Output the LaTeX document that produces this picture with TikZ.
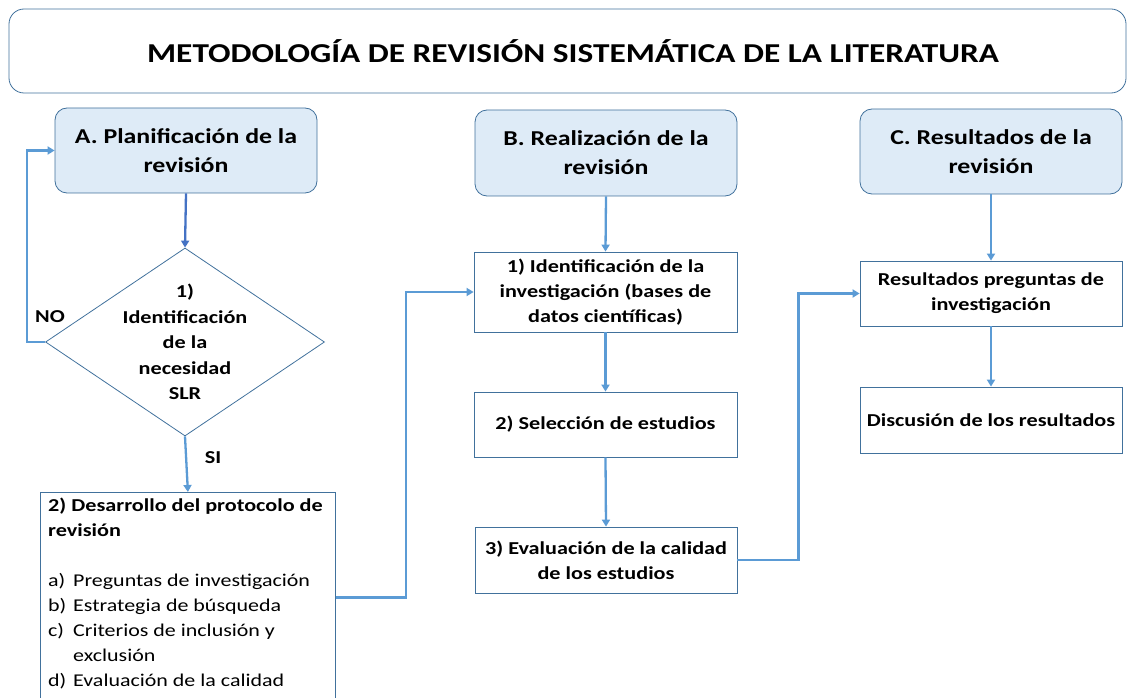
\documentclass[tikz,border=0pt]{standalone}
\usepackage{fontspec}
\setmainfont{Carlito}[FakeStretch=1.22]
\usetikzlibrary{shapes.geometric,arrows.meta}
\definecolor{bord}{HTML}{41719C}
\definecolor{hfill}{HTML}{DEEBF7}
\definecolor{lnk}{HTML}{5B9BD5}
\definecolor{lnkd}{HTML}{4472C4}
\begin{document}
\begin{tikzpicture}[x=1pt,y=-1pt,
  hdr/.style={draw=bord, line width=0.8pt, fill=hfill, rounded corners=12pt,
    minimum width=262pt, minimum height=85pt, align=center,
    font=\fontsize{21.2}{29}\selectfont\bfseries, inner sep=0pt},
  stepbox/.style={draw=bord, line width=0.8pt, fill=white, minimum width=263pt,
    align=center, font=\fontsize{18.2}{25}\selectfont\bfseries, inner sep=0pt},
  link/.style={draw=lnk, line width=2.3pt, -{Triangle[length=7pt,width=8pt]}},
  lbl/.style={font=\fontsize{18.2}{25}\selectfont\bfseries, inner sep=0pt},
]
\clip (0,0) rectangle (1128,698);
\useasboundingbox (0,0) rectangle (1128,698);

% title
\node[draw=bord, line width=0.8pt, rounded corners=15pt, minimum width=1117pt,
  minimum height=84pt, inner sep=0pt] (title) at (567.5,51) {};
\node[inner sep=0pt, font=\fontsize{27.3}{30}\selectfont\bfseries]
  (titletext) at (573,51) {METODOLOGÍA DE REVISIÓN SISTEMÁTICA DE LA LITERATURA};

% headers
\node[hdr] (A) at (186,150.5) {A. Planificación de la\\revisión};
\node[hdr, minimum height=86pt] (B) at (606,153) {B. Realización de la\\revisión};
\node[hdr] (C) at (991,151.5) {C. Resultados de la\\revisión};

% diamond
\node[diamond, draw=bord, line width=0.8pt, minimum width=279pt, minimum height=188pt,
  inner sep=0pt] (d) at (185,342) {};
\node[lbl, align=center, font=\fontsize{18.2}{25.5}\selectfont\bfseries] (dt) at (185,342)
  {1)\\Identificación\\de la\\necesidad\\SLR};

% protocol box
\node[draw=bord, line width=0.8pt, minimum width=295pt, minimum height=240pt,
  inner sep=0pt, anchor=north west] (p2) at (40,492) {};
\node[anchor=north west, align=left, inner sep=0pt,
  font=\fontsize{18}{25}\selectfont] (p2t) at (48,498)
  {\textbf{\fontsize{18.2}{25}\selectfont 2) Desarrollo del protocolo de}\\\textbf{\fontsize{18.2}{25}\selectfont revisión}\\[25pt]
   \makebox[25pt][l]{a)}Preguntas de investigación\\
   \makebox[25pt][l]{b)}Estrategia de búsqueda\\
   \makebox[25pt][l]{c)}Criterios de inclusión y\\
   \hspace*{25pt}exclusión\\
   \makebox[25pt][l]{d)}Evaluación de la calidad};

% column B
\node[stepbox, minimum height=80pt] (B1) at (605.5,292)
  {1) Identificación de la\\investigación (bases de\\datos científicas)};
\node[stepbox, minimum height=65pt] (B2) at (605.5,424.5) {2) Selección de estudios};
\node[stepbox, minimum height=66pt, minimum width=262pt] (B3) at (606,560)
  {3) Evaluación de la calidad\\de los estudios};

% column C
\node[stepbox, minimum width=262pt, minimum height=65pt] (C1) at (991,293.5)
  {Resultados preguntas de\\investigación};
\node[stepbox, minimum width=262pt, minimum height=66pt] (C2) at (991,420)
  {Discusión de los resultados};

% labels
\node[lbl] (no) at (50,317) {NO};
\node[lbl] (si) at (213,458) {SI};

% connectors
\draw[link, draw=lnkd] (A.south) -- (d.north);
\draw[link] (d.west) -- ++(-18,0) |- (A.west);
\draw[link] (d.south) -- (p2.north);
\draw[link] ([yshift=15pt]p2.east) -- ++(70,0) |- (B1.west);
\draw[link] (B.south) -- (B1.north);
\draw[link] (B1.south) -- (B2.north);
\draw[link] (B2.south) -- (B3.north);
\draw[link] (B3.east) -- ++(61,0) |- (C1.west);
\draw[link] (C.south) -- (C1.north);
\draw[link] (C1.south) -- (C2.north);
\end{tikzpicture}
\end{document}
